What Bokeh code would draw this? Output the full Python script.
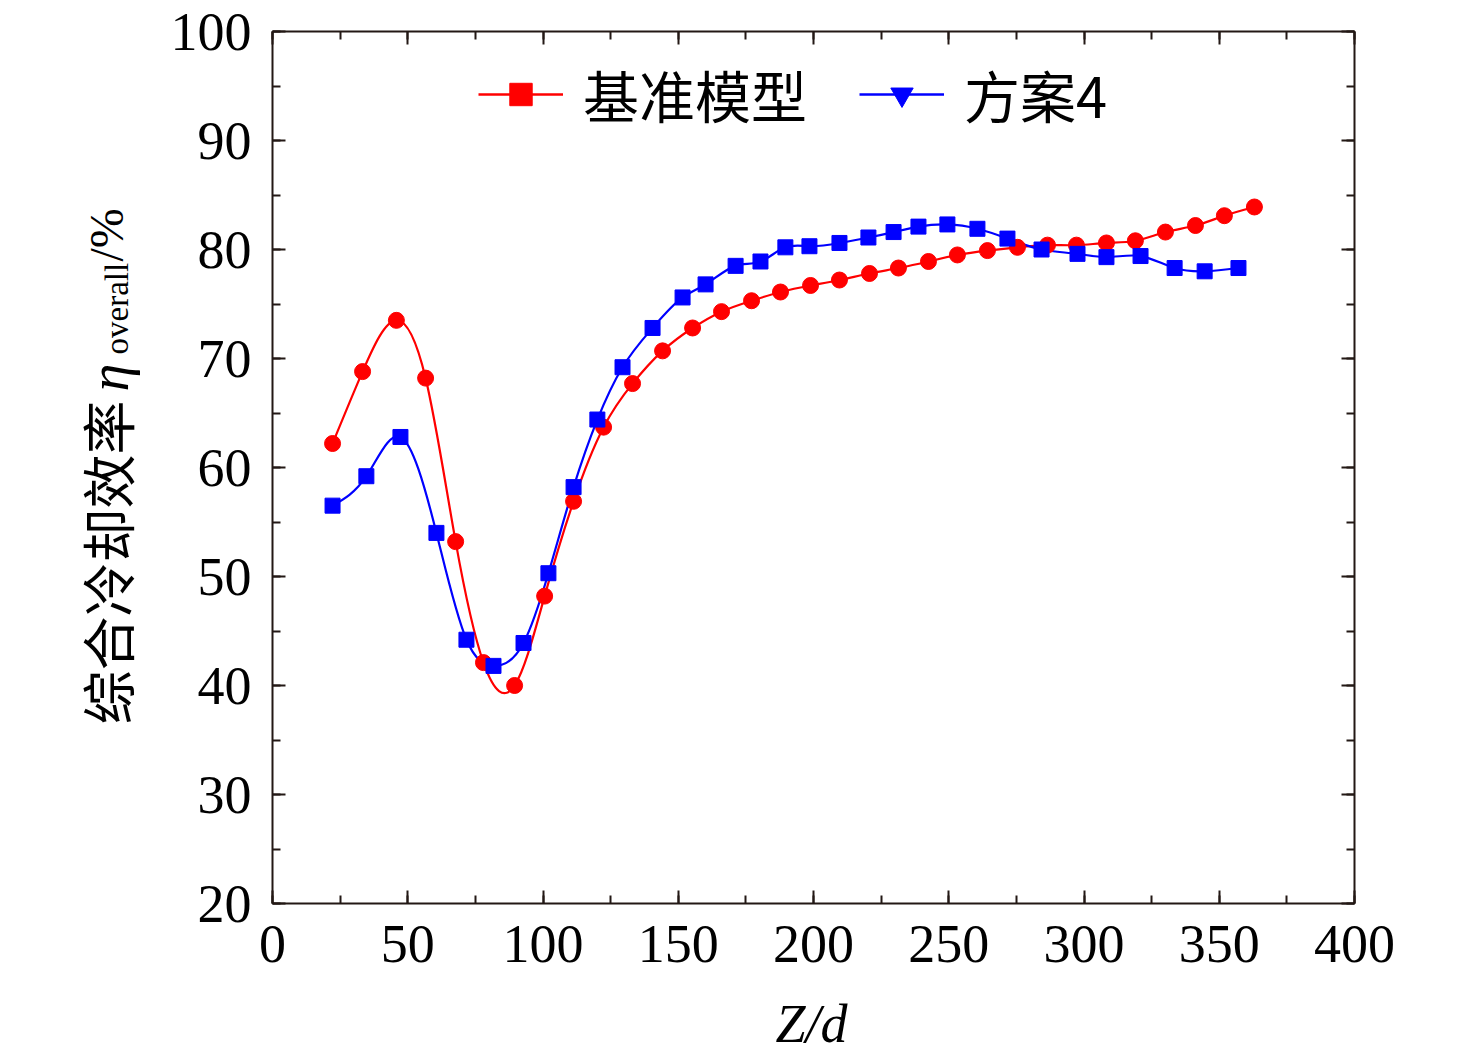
import numpy as np
from bokeh.plotting import figure
from bokeh.models import (Range1d, LinearAxis, Legend, LegendItem,
                          SingleIntervalTicker, ColumnDataSource)
from bokeh.core.properties import value
from bokeh.embed import file_html
from bokeh.resources import INLINE

# ---------------- data ----------------
x_base = [22.2, 33.3, 45.8, 56.6, 67.7, 78.0, 89.5, 100.6, 111.3, 122.4, 133.1,
          144.2, 155.3, 166.0, 177.1, 187.8, 198.9, 209.6, 220.7, 231.4, 242.5,
          253.2, 264.3, 275.4, 286.5, 297.2, 308.3, 319.0, 330.1, 341.2, 351.9,
          363.0]
y_base = [62.2, 68.8, 73.5, 68.2, 53.2, 42.1, 40.0, 48.2, 56.9, 63.7, 67.7,
          70.7, 72.8, 74.3, 75.3, 76.1, 76.7, 77.2, 77.8, 78.3, 78.9,
          79.5, 79.9, 80.2, 80.4, 80.4, 80.6, 80.8, 81.6, 82.2, 83.1,
          83.9]

x_case4 = [22.2, 34.7, 47.3, 60.6, 71.7, 81.7, 92.8, 102.0, 111.3, 120.1, 129.4,
           140.5, 151.6, 160.1, 171.2, 180.4, 189.6, 198.5, 209.6, 220.3, 229.6,
           238.8, 249.5, 260.6, 271.7, 284.3, 297.6, 308.3, 320.9, 333.5, 344.6,
           357.1]
y_case4 = [56.5, 59.2, 62.8, 54.0, 44.2, 41.8, 43.9, 50.3, 58.2, 64.4, 69.2,
           72.8, 75.6, 76.8, 78.5, 78.9, 80.2, 80.3, 80.6, 81.1, 81.6,
           82.1, 82.3, 81.9, 81.0, 80.0, 79.6, 79.3, 79.4, 78.3, 78.0,
           78.3]

series_names = ["基准模型", "方案4"]
x_title = "Z/d"
y_title_parts = ["综合冷却效率", "η", "overall", "/%"]

RED = "#FF0000"
BLUE = "#0000FF"
AX = "#231815"
SERIF = "Liberation Serif"
CJK = "Noto Sans CJK SC"

X0, X1, Y0, Y1 = 0, 400, 20, 100
W, H = 1468, 1052
SHIFT = 4                                     # keeps the "100" label inside the page
FL, FR, FT, FB = 272, 1354, 27 + SHIFT, 899 + SHIFT   # frame edges in page pixels


def spline_bezier(x, y):
    """Bezier control points of a natural cubic spline through the data."""
    x = np.asarray(x, float)
    y = np.asarray(y, float)
    n = len(x)
    h = np.diff(x)
    A = np.zeros((n, n))
    r = np.zeros(n)
    A[0, 0] = 1.0
    A[-1, -1] = 1.0
    for i in range(1, n - 1):
        A[i, i - 1] = h[i - 1]
        A[i, i] = 2 * (h[i - 1] + h[i])
        A[i, i + 1] = h[i]
        r[i] = 6 * ((y[i + 1] - y[i]) / h[i] - (y[i] - y[i - 1]) / h[i - 1])
    M = np.linalg.solve(A, r)
    d = np.diff(y) / h
    m0 = d - h * (2 * M[:-1] + M[1:]) / 6
    m1 = d + h * (M[:-1] + 2 * M[1:]) / 6
    return dict(x0=x[:-1], y0=y[:-1], x1=x[1:], y1=y[1:],
                cx0=x[:-1] + h / 3, cy0=y[:-1] + m0 * h / 3,
                cx1=x[1:] - h / 3, cy1=y[1:] - m1 * h / 3)


def px_to_data(px, py):
    py = py + SHIFT
    xd = X0 + (px - FL) * (X1 - X0) / (FR - FL)
    yd = Y0 + (FB - py) * (Y1 - Y0) / (FB - FT)
    return xd, yd


p = figure(width=W, height=H, output_backend="svg", toolbar_location=None,
           x_range=Range1d(X0, X1), y_range=Range1d(Y0, Y1),
           min_border_left=FL, min_border_right=W - FR,
           min_border_top=FT, min_border_bottom=H - FB)
p.grid.visible = False
p.outline_line_color = None
p.background_fill_color = "white"
p.border_fill_color = "white"

# curves
p.bezier(line_color=RED, line_width=2.2, **spline_bezier(x_base, y_base))
p.bezier(line_color=BLUE, line_width=2.2, **spline_bezier(x_case4, y_case4))

p.scatter(x_base, y_base, marker="circle", size=16, fill_color=RED, line_color=RED)
p.scatter(x_case4, y_case4, marker="square", size=15, fill_color=BLUE, line_color=BLUE)

# legend renderers (as in the reference: square / inverted triangle)
l1 = p.line(x_base, y_base, line_color=RED, line_width=2.5, visible=False)
m1 = p.scatter(x_base, y_base, marker="square", size=12, fill_color=RED,
               line_color=RED, visible=False)
l2 = p.line(x_case4, y_case4, line_color=BLUE, line_width=2.5, visible=False)
m2 = p.scatter(x_case4, y_case4, marker="inverted_triangle", size=14,
               fill_color=BLUE, line_color=BLUE, visible=False)
legend = Legend(items=[LegendItem(label=series_names[0], renderers=[l1, m1]),
                       LegendItem(label=series_names[1], renderers=[l2, m2])],
                orientation="horizontal", location=(206, 769),
                glyph_width=85, glyph_height=56, label_standoff=20, spacing=52,
                padding=0, margin=0, border_line_color=None,
                background_fill_alpha=0, label_text_font=CJK,
                label_text_font_size="56px", label_text_color="black",
                label_text_baseline="middle", label_height=56)
p.add_layout(legend, "center")


def style_axis(ax, show_labels=True):
    ax.axis_line_color = AX
    ax.axis_line_width = 2
    ax.major_tick_line_color = AX
    ax.major_tick_line_width = 2
    ax.minor_tick_line_color = AX
    ax.minor_tick_line_width = 2
    ax.major_tick_in = 13
    ax.major_tick_out = 0
    ax.minor_tick_in = 8
    ax.minor_tick_out = 0
    ax.major_label_text_font = SERIF
    ax.major_label_text_color = "black"
    if show_labels:
        ax.major_label_text_font_size = "54px"
    else:
        ax.major_label_text_font_size = "0px"
        ax.major_label_text_alpha = 0
        ax.major_label_standoff = 0


p.xaxis.ticker = SingleIntervalTicker(interval=50, num_minor_ticks=2)
p.yaxis.ticker = SingleIntervalTicker(interval=10, num_minor_ticks=2)
style_axis(p.xaxis[0])
style_axis(p.yaxis[0])
p.xaxis.major_label_standoff = 22
p.yaxis.major_label_standoff = 21

top = LinearAxis(ticker=SingleIntervalTicker(interval=50, num_minor_ticks=2))
right = LinearAxis(ticker=SingleIntervalTicker(interval=10, num_minor_ticks=2))
style_axis(top, False)
style_axis(right, False)
p.add_layout(top, "above")
p.add_layout(right, "right")

# axis titles drawn as text over the margins
ang = np.pi / 2
titles = [  # text, font, style, size, baseline, angle, align, page x, page y
    (x_title, SERIF, "italic", "54px", "middle", 0.0, "center", 811, 1019),
    (y_title_parts[0], CJK, "normal", "54px", "middle", ang, "left", 106, 720),
    (y_title_parts[1], SERIF, "italic", "56px", "alphabetic", ang, "left", 108, 387),
    (y_title_parts[2], SERIF, "normal", "33px", "alphabetic", ang, "left", 116, 350),
    (y_title_parts[3], SERIF, "normal", "48px", "alphabetic", ang, "left", 106, 257),
]
for txt, fnt, sty, sz, bl, a, al, px, py in titles:
    xd, yd = px_to_data(px, py)
    src = ColumnDataSource(dict(x=[xd], y=[yd], t=[txt]))
    p.text(x="x", y="y", text="t", source=src, angle=a, text_font=value(fnt),
           text_font_style=sty, text_font_size=sz, text_align=al,
           text_baseline=bl, text_color="black", level="overlay")

open("out.html", "w").write(file_html(p, INLINE))
